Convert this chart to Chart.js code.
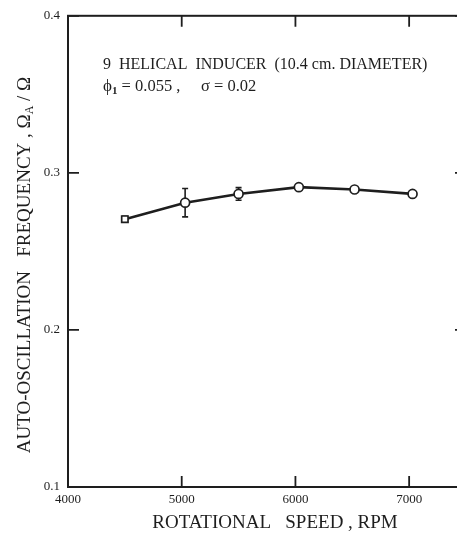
<!DOCTYPE html>
<html>
<head>
<meta charset="utf-8">
<script src="https://cdn.jsdelivr.net/npm/chart.js@4/dist/chart.umd.min.js"></script>
<style>
  html, body { margin: 0; padding: 0; background: #fff; overflow: hidden; }
  #wrap { width: 480px; height: 535px; }
</style>
</head>
<body>
<div id="wrap"><canvas id="chart" width="480" height="535"></canvas></div>
<script>
"use strict";

/* ---------------- data ---------------- */
const speedRpm = [4500, 5030, 5500, 6030, 6520, 7030];
const freqRatio = [0.2705, 0.281, 0.2866, 0.2909, 0.2894, 0.2866];
const freqError = [0.0018, 0.009, 0.004, 0, 0, 0];
const xTickValues = [4000, 5000, 6000, 7000];
const yTickValues = [0.1, 0.2, 0.3, 0.4];

const INK = "#1e1e1e";
const SERIF = "'Liberation Serif', 'DejaVu Serif', serif";

/* ---------------- helpers ---------------- */
function keepTicks(values) {
  return (scale) => {
    scale.ticks = values.map((v) => ({ value: v }));
  };
}

const framePlugin = {
  id: "frame",
  // error bars go under the markers
  beforeDatasetsDraw(chart) {
    const { ctx, scales } = chart;
    const xs = scales.x, ys = scales.y;
    ctx.save();
    ctx.strokeStyle = INK;
    ctx.lineWidth = 1.6;
    speedRpm.forEach((x, i) => {
      const e = freqError[i];
      if (!e) return;
      const px = xs.getPixelForValue(x);
      const top = ys.getPixelForValue(freqRatio[i] + e);
      const bot = ys.getPixelForValue(freqRatio[i] - e);
      ctx.beginPath();
      ctx.moveTo(px, top); ctx.lineTo(px, bot);
      ctx.moveTo(px - 3, top); ctx.lineTo(px + 3, top);
      ctx.moveTo(px - 3, bot); ctx.lineTo(px + 3, bot);
      ctx.stroke();
    });
    ctx.restore();
  },
  afterDatasetsDraw(chart) {
    const { ctx, chartArea: a, scales } = chart;
    const xs = scales.x, ys = scales.y;
    ctx.save();
    ctx.strokeStyle = INK;

    // frame
    ctx.lineWidth = 2;
    ctx.strokeRect(a.left, a.top, a.right - a.left, a.bottom - a.top);

    // inward ticks
    ctx.lineWidth = 1.8;
    const tl = 11;
    xTickValues.forEach((v) => {
      const px = xs.getPixelForValue(v);
      ctx.beginPath();
      ctx.moveTo(px, a.bottom); ctx.lineTo(px, a.bottom - tl);
      ctx.moveTo(px, a.top); ctx.lineTo(px, a.top + tl);
      ctx.stroke();
    });
    yTickValues.forEach((v) => {
      const py = ys.getPixelForValue(v);
      ctx.beginPath();
      ctx.moveTo(a.left, py); ctx.lineTo(a.left + tl, py);
      ctx.moveTo(a.right, py); ctx.lineTo(a.right - tl, py);
      ctx.stroke();
    });

    // annotation text
    ctx.fillStyle = INK;
    ctx.textBaseline = "alphabetic";
    ctx.textAlign = "left";
    ctx.font = "16px " + SERIF;
    const tx = a.left + 35;
    ctx.fillText("9  HELICAL  INDUCER  (10.4 cm. DIAMETER)", tx, a.top + 53);
    ctx.font = "17px " + SERIF;
    ctx.fillText("\u03D5", tx, a.top + 75);
    let w = ctx.measureText("\u03D5").width;
    ctx.font = "bold 11px " + SERIF;
    ctx.fillText("1", tx + w, a.top + 78);
    w += ctx.measureText("1").width;
    ctx.font = "16.5px " + SERIF;
    ctx.fillText(" = 0.055 ,     \u03C3 = 0.02", tx + w, a.top + 75);

    // x title
    ctx.textAlign = "center";
    ctx.font = "19px " + SERIF;
    ctx.fillText("ROTATIONAL   SPEED , RPM", 275, 528);

    // y title (rotated, with subscript)
    ctx.translate(25, 265);
    ctx.rotate(-Math.PI / 2);
    const main = "AUTO-OSCILLATION   FREQUENCY , \u03A9";
    const tail = " / \u03A9";
    ctx.font = "19px " + SERIF;
    const wMain = ctx.measureText(main).width;
    const wTail = ctx.measureText(tail).width;
    ctx.font = "12px " + SERIF;
    const wSub = ctx.measureText("A").width;
    const total = wMain + wSub + wTail;
    let cx = -total / 2;
    ctx.textAlign = "left";
    ctx.textBaseline = "middle";
    ctx.font = "19px " + SERIF;
    ctx.fillText(main, cx, 0);
    cx += wMain;
    ctx.font = "12px " + SERIF;
    ctx.fillText("A", cx, 5);
    cx += wSub;
    ctx.font = "19px " + SERIF;
    ctx.fillText(tail, cx, 0);

    ctx.restore();
  },
};

/* ---------------- chart ---------------- */
new Chart(document.getElementById("chart"), {
  type: "line",
  data: {
    datasets: [
      {
        data: speedRpm.map((x, i) => ({ x, y: freqRatio[i] })),
        borderColor: INK,
        borderWidth: 2.6,
        backgroundColor: "#fff",
        pointBackgroundColor: "#fff",
        pointBorderColor: INK,
        pointBorderWidth: 1.7,
        pointRadius: 4.5,
        pointStyle: (c) => (c.dataIndex === 0 ? "rect" : "circle"),
        tension: 0,
        fill: false,
      },
    ],
  },
  options: {
    responsive: false,
    animation: false,
    layout: { padding: { top: 15, right: 14, left: 0, bottom: 0 } },
    plugins: { legend: { display: false }, tooltip: { enabled: false } },
    scales: {
      x: {
        type: "linear",
        min: 4000,
        max: 7500,
        afterBuildTicks: keepTicks(xTickValues),
        afterFit: (s) => { s.height = 48; },
        grid: { display: false, drawTicks: false },
        border: { display: false },
        ticks: {
          color: INK,
          padding: 5,
          font: { family: SERIF, size: 13 },
          maxRotation: 0,
          callback: (v) => String(v),
        },
      },
      y: {
        min: 0.1,
        max: 0.4,
        afterBuildTicks: keepTicks(yTickValues),
        afterFit: (s) => { s.width = 68; },
        grid: { display: false, drawTicks: false },
        border: { display: false },
        ticks: {
          color: INK,
          padding: 8,
          font: { family: SERIF, size: 13 },
          callback: (v) => v.toFixed(1),
        },
      },
    },
  },
  plugins: [framePlugin],
});
</script>
</body>
</html>
